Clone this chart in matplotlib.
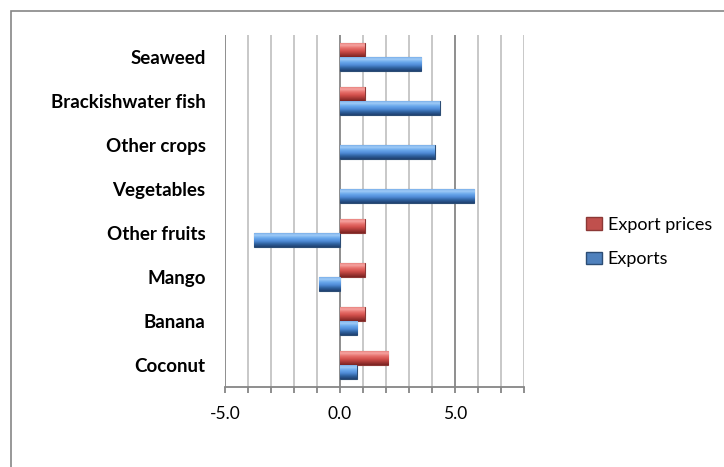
import numpy as np
import matplotlib
matplotlib.use('Agg')
import matplotlib.pyplot as plt
from matplotlib.colors import LinearSegmentedColormap
from matplotlib.patches import Rectangle, Patch

# data, bottom to top as drawn
categories = ['Coconut', 'Banana', 'Mango', 'Other fruits', 'Vegetables',
              'Other crops', 'Brackishwater fish', 'Seaweed']
exports = [0.72, 0.75, -0.92, -3.72, 5.83, 4.13, 4.33, 3.53]
export_prices = [2.1, 1.07, 1.07, 1.07, 0, 0, 1.07, 1.07]
major_ticks = [-5, 0, 5]
tick_labels = ['-5.0', '0.0', '5.0']

plt.rcParams['font.family'] = ['Lato', 'DejaVu Sans']

W, H = 724, 467
fig = plt.figure(figsize=(W / 100, H / 100), dpi=100)
ax = fig.add_axes([225 / W, 80 / H, 299 / W, 352 / H])

# shaded gradients to mimic the Excel bevel look
blue_cmap = LinearSegmentedColormap.from_list(
    'b', ['#1f4170', '#2f619f', '#4f8bd6', '#6aa8ec', '#9fcbf7', '#6aa3e3'])
red_cmap = LinearSegmentedColormap.from_list(
    'r', ['#7a2422', '#a83936', '#d2504c', '#e66f6b', '#f6a3a0', '#e27571'])

y = np.arange(len(categories))
h = 0.32
bars_e = ax.barh(y - h / 2, exports, height=h, color='#4f81bd',
                 edgecolor='#2c4d75', linewidth=0.8, zorder=2)
bars_p = ax.barh(y + h / 2, export_prices, height=h, color='#c0504d',
                 edgecolor='#8c3836', linewidth=0.8, zorder=2)

grad = np.linspace(0, 1, 60).reshape(-1, 1)
for bars, cmap in [(bars_e, blue_cmap), (bars_p, red_cmap)]:
    for b in bars:
        if b.get_width() == 0:
            b.set_visible(False)
            continue
        x0, y0 = b.get_x(), b.get_y()
        x1, y1 = x0 + b.get_width(), y0 + b.get_height()
        im = ax.imshow(grad, cmap=cmap, origin='lower', aspect='auto',
                       extent=(min(x0, x1), max(x0, x1), y0, y1), zorder=3)
        im.set_clip_path(b)

ax.set_xlim(-5, 8)
ax.set_ylim(-0.5, len(categories) - 0.5)
ax.set_yticks(y)
ax.set_yticklabels(categories, fontsize=13.5, fontweight='bold')
ax.set_xticks(major_ticks)
ax.set_xticklabels(tick_labels, fontsize=12.5)
ax.set_xticks(np.arange(-5, 9), minor=True)

ax.set_axisbelow(True)
ax.grid(True, axis='x', which='minor', color='#c4c4c4', linewidth=1.3)
ax.grid(True, axis='x', which='major', color='#868686', linewidth=1.3)
ax.grid(False, axis='y')
for s in ['top', 'right', 'left']:
    ax.spines[s].set_visible(False)
ax.spines['bottom'].set_color('#868686')
ax.spines['bottom'].set_linewidth(1.3)
ax.tick_params(axis='x', which='both', direction='out', length=4.5,
               color='#868686', width=1.3, pad=9.5)
ax.tick_params(axis='y', length=0, pad=14)

handles = [Patch(facecolor='#c0504d', edgecolor='#8c3836', label='Export prices'),
           Patch(facecolor='#4f81bd', edgecolor='#2c4d75', label='Exports')]
fig.legend(handles=handles, loc='center left', bbox_to_anchor=(586 / W, 1 - 242 / H),
           bbox_transform=fig.transFigure, frameon=False, fontsize=13,
           borderpad=0, borderaxespad=0, handlelength=0.9, handleheight=0.7,
           handletextpad=0.3, labelspacing=1.05)

# chart border
fig.add_artist(Rectangle((11 / W, -0.1), 1.0, 1.1 - 11 / H, transform=fig.transFigure,
                         fill=False, edgecolor='#868686', linewidth=1.2))

fig.savefig('out.png', dpi=100)
